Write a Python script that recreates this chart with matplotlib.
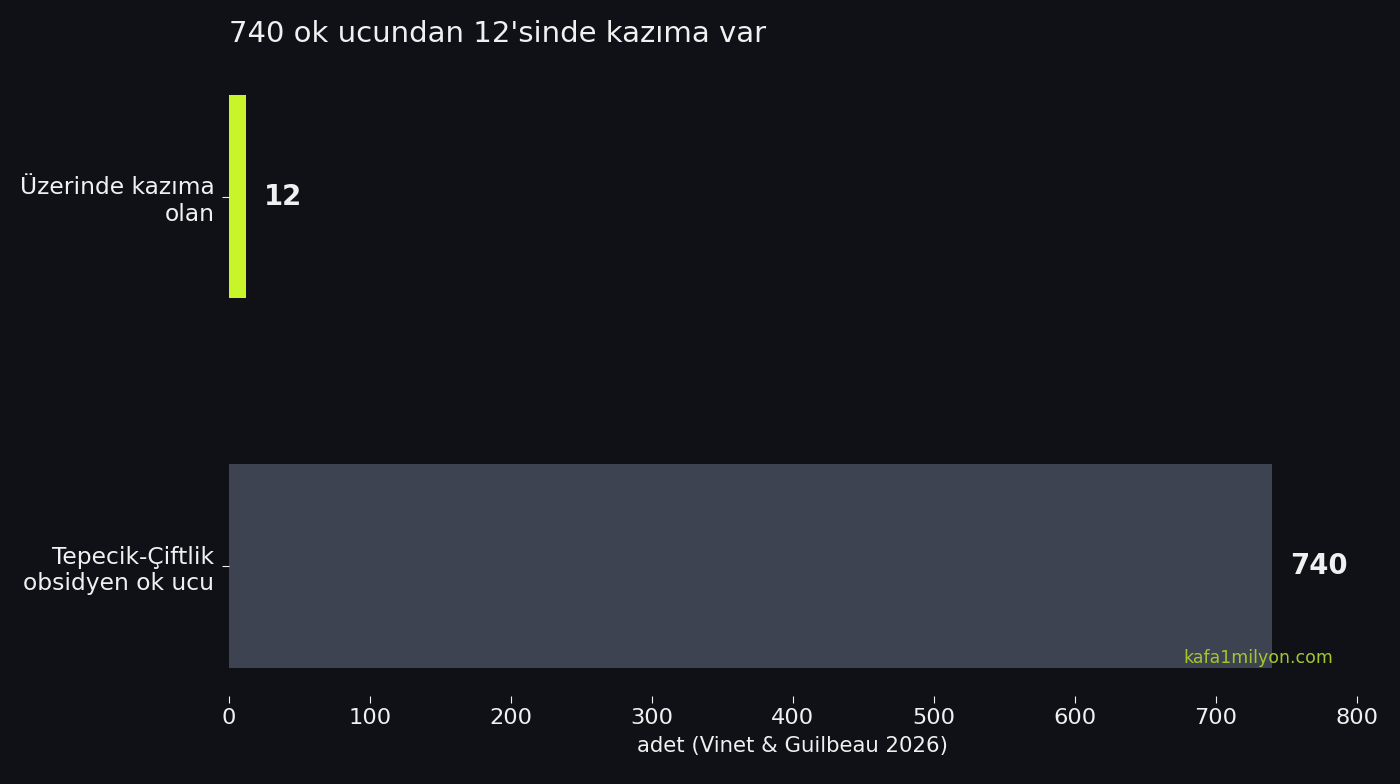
import matplotlib
matplotlib.use('Agg')
import matplotlib.pyplot as plt

# 데이터
categories = ['Tepecik-Çiftlik\nobsidyen ok ucu', 'Üzerinde kazıma\nolan']
values = [740, 12]
bar_colors = ['#3d4350', '#c8f52a']

bg = '#0f1117'
fg = '#f0f0f0'

fig = plt.figure(figsize=(14, 7.84), dpi=100, facecolor=bg)
ax = fig.add_axes([0.1636, 0.112, 0.8054, 0.803])
ax.set_facecolor(bg)

ax.barh(categories, values, height=0.55, color=bar_colors)

for i, v in enumerate(values):
    ax.text(v + 12.5, i, str(v), va='center', ha='left', color=fg,
            fontsize=19.8, fontweight='bold')

ax.set_xlim(0, 800)
ax.set_xticks(range(0, 801, 100))
for s in ax.spines.values():
    s.set_visible(False)
ax.tick_params(axis='x', colors=fg, labelsize=16.2, length=5)
ax.tick_params(axis='y', colors=fg, labelsize=16.8, length=5, pad=5.5)
ax.set_xlabel('adet (Vinet & Guilbeau 2026)', color=fg, fontsize=15.3, labelpad=6)

fig.text(0.1636, 0.957, "740 ok ucundan 12'sinde kazıma var", color=fg,
         fontsize=21, ha='left', va='center')
fig.text(0.952, 0.161, 'kafa1milyon.com', color='#a3c630', fontsize=12.5,
         ha='right', va='center')

fig.savefig('out.png', dpi=100, facecolor=bg)
